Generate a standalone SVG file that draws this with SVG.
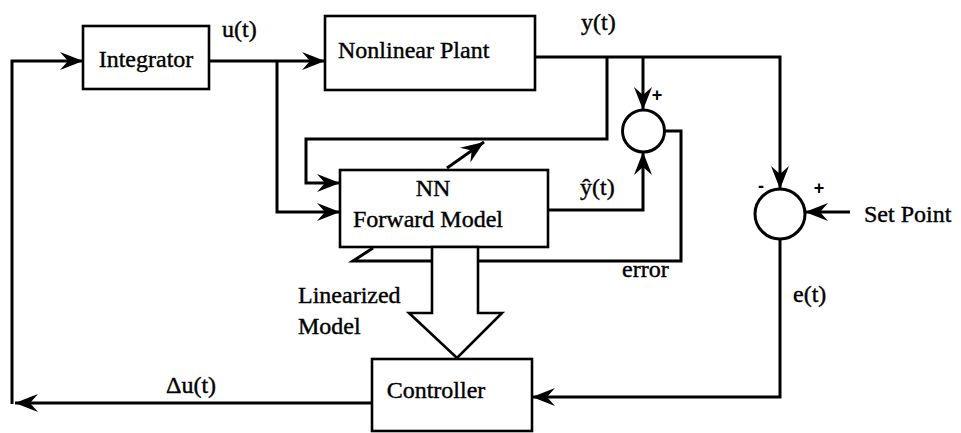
<svg xmlns="http://www.w3.org/2000/svg" width="961" height="433" viewBox="0 0 961 433">
<style>
.box{fill:#fff;stroke:#000;stroke-width:2.6}
.ln{fill:none;stroke:#000;stroke-width:3;stroke-linejoin:miter}
.arw{fill:none;stroke:#000;stroke-width:3;marker-end:url(#ah)}
.sum{fill:#fff;stroke:#000;stroke-width:3}
.t{font-family:"Liberation Serif","Times New Roman",serif;font-size:24px;fill:#000;stroke:#000;stroke-width:0.4}
.sg{font-family:"Liberation Sans",Arial,sans-serif;font-size:18px;font-weight:bold;fill:#000}
</style>
<defs>
<marker id="ah" markerUnits="userSpaceOnUse" markerWidth="26" markerHeight="22" viewBox="-24 -11 26 22" refX="0" refY="0" orient="auto">
<path d="M0,0 L-23,-9 L-15,0 L-23,9 Z" fill="#000"/>
</marker>
</defs>
<g id="connectors">
<path class="arw" d="M12,404 V61 H83"/>
<path class="arw" d="M209,61 H325"/>
<path class="arw" d="M277,61 V212 H340"/>
<path class="arw" d="M535,57 H780 V189"/>
<path class="arw" d="M607,57 V139 H306 V183 H340"/>
<path class="arw" d="M643,57 V110"/>
<path class="arw" d="M548,210 H643 V152"/>
<path class="ln" d="M664,131 H681 V261 H353 L373,248"/>
<path class="arw" d="M850,212 H805"/>
<path class="arw" d="M780,239 V397 H532"/>
<path class="arw" d="M372,403 H15"/>
<path class="arw" d="M447,168 L484,142"/>
</g>
<g id="integrator"><rect class="box" x="83" y="26" width="126" height="63"/><text class="t" x="146" y="67" text-anchor="middle">Integrator</text></g>
<g id="plant"><rect class="box" x="325" y="16" width="210" height="74"/><text class="t" x="338" y="58">Nonlinear Plant</text></g>
<g id="nn"><rect class="box" x="340" y="170" width="208" height="77"/><text class="t" x="433" y="196" text-anchor="middle">NN</text><text class="t" x="428" y="227" text-anchor="middle">Forward Model</text></g>
<g id="linarrow"><polygon class="box" points="432,247 432,313 409,313 457,358 502,313 478,313 478,247"/></g>
<g id="controller"><rect class="box" x="372" y="359" width="160" height="72"/><text class="t" x="436" y="398" text-anchor="middle">Controller</text></g>
<g id="sum1"><circle class="sum" cx="643.5" cy="131" r="21"/><text class="sg" x="657" y="101" text-anchor="middle">+</text></g>
<g id="sum2"><circle class="sum" cx="780" cy="214" r="25"/><text class="sg" x="761" y="192" text-anchor="middle">-</text><text class="sg" x="819" y="194" text-anchor="middle">+</text></g>
<g id="labels">
<text class="t" x="222" y="37">u(t)</text>
<text class="t" x="581" y="30">y(t)</text>
<text class="t" x="580" y="195">ŷ(t)</text>
<text class="t" x="622" y="277">error</text>
<text class="t" x="793" y="302">e(t)</text>
<text class="t" x="864" y="222">Set Point</text>
<text class="t" x="298" y="303">Linearized</text>
<text class="t" x="298" y="334">Model</text>
<text class="t" x="166" y="393">Δu(t)</text>
</g>
</svg>
